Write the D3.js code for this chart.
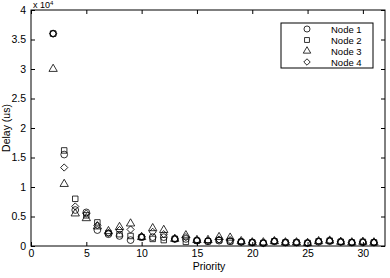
<!DOCTYPE html>
<html>
<head>
<meta charset="utf-8">
<script src="https://cdn.jsdelivr.net/npm/d3@7"></script>
<style>
  body { margin: 0; background: #fff; }
  svg { display: block; font-family: "Liberation Sans", Arial, sans-serif; }
</style>
</head>
<body>
<div id="chart"></div>
<script>
// priorities on the x axis
const priorities = [2, 3, 4, 5, 6, 7, 8, 9, 10, 11, 12, 13, 14, 15, 16, 17, 18, 19, 20, 21, 22, 23, 24, 25, 26, 27, 28, 29, 30, 31];

// delay values (x 10^4 us)
const node1 = [3.60, 1.55, 0.61, 0.57, 0.27, 0.20, 0.17, 0.10, 0.15, 0.15, 0.15, 0.12, 0.12, 0.09, 0.08, 0.09, 0.08, 0.07, 0.06, 0.05, 0.08, 0.06, 0.06, 0.05, 0.07, 0.08, 0.07, 0.06, 0.06, 0.06];
const node2 = [3.60, 1.62, 0.80, 0.52, 0.40, 0.22, 0.20, 0.17, 0.15, 0.12, 0.10, 0.12, 0.07, 0.09, 0.08, 0.10, 0.08, 0.07, 0.06, 0.05, 0.08, 0.06, 0.06, 0.05, 0.08, 0.09, 0.07, 0.06, 0.07, 0.06];
const node3 = [3.00, 1.05, 0.55, 0.47, 0.33, 0.25, 0.32, 0.38, 0.15, 0.30, 0.27, 0.12, 0.18, 0.10, 0.10, 0.15, 0.14, 0.08, 0.06, 0.06, 0.08, 0.06, 0.06, 0.05, 0.08, 0.09, 0.07, 0.06, 0.07, 0.06];
const node4 = [3.60, 1.33, 0.67, 0.55, 0.35, 0.22, 0.27, 0.28, 0.16, 0.24, 0.20, 0.12, 0.15, 0.10, 0.09, 0.11, 0.10, 0.07, 0.06, 0.05, 0.08, 0.06, 0.06, 0.05, 0.08, 0.09, 0.07, 0.06, 0.07, 0.06];

const seriesNames = ["Node 1", "Node 2", "Node 3", "Node 4"];
const seriesValues = [node1, node2, node3, node4];
// diamond is drawn as a square turned 45 degrees, like matlab's marker
const seriesSymbols = [d3.symbolCircle, d3.symbolSquare, d3.symbolTriangle, d3.symbolSquare];
const seriesRotate = [0, 0, 0, 45];
const seriesSizes = [36, 30, 30, 26];

const xTicks = [0, 5, 10, 15, 20, 25, 30];
const yTicks = [0, 0.5, 1, 1.5, 2, 2.5, 3, 3.5, 4];

const width = 390, height = 278;
const plotLeft = 31, plotRight = 385, plotTop = 10, plotBottom = 246;

const x = d3.scaleLinear().domain([0, 32]).range([plotLeft, plotRight]);
const y = d3.scaleLinear().domain([0, 4]).range([plotBottom, plotTop]);

const svg = d3.select("#chart").append("svg")
    .attr("width", width)
    .attr("height", height);

// plot box
svg.append("rect")
    .attr("x", plotLeft).attr("y", plotTop)
    .attr("width", plotRight - plotLeft).attr("height", plotBottom - plotTop)
    .attr("fill", "none").attr("stroke", "#000").attr("stroke-width", 1);

// axes with inward ticks
const xAxis = svg.append("g").attr("transform", `translate(0,${plotBottom})`)
    .call(d3.axisBottom(x).tickValues(xTicks).tickSize(-4).tickPadding(4));
const xTop = svg.append("g").attr("transform", `translate(0,${plotTop})`)
    .call(d3.axisTop(x).tickValues(xTicks).tickSize(-4).tickFormat(""));
const yAxis = svg.append("g").attr("transform", `translate(${plotLeft},0)`)
    .call(d3.axisLeft(y).tickValues(yTicks).tickSize(-4).tickPadding(5).tickFormat(d3.format("~g")));
const yRight = svg.append("g").attr("transform", `translate(${plotRight},0)`)
    .call(d3.axisRight(y).tickValues(yTicks).tickSize(-4).tickFormat(""));

[xAxis, xTop, yAxis, yRight].forEach(g => {
    g.select(".domain").remove();
    g.selectAll("line").attr("stroke", "#000");
    g.selectAll("text").attr("fill", "#000").style("font-size", "10.5px");
});

// scale factor label
const expo = svg.append("text")
    .attr("x", 33).attr("y", 8)
    .style("font-size", "9px")
    .text("x 10");
expo.append("tspan").attr("dy", -3).style("font-size", "6px").text("4");

// axis titles
svg.append("text")
    .attr("x", 209).attr("y", 270)
    .attr("text-anchor", "middle")
    .style("font-size", "10.5px")
    .text("Priority");

svg.append("text")
    .attr("transform", `translate(10,${(plotTop + plotBottom) / 2}) rotate(-90)`)
    .attr("text-anchor", "middle")
    .style("font-size", "10.5px")
    .text("Delay (us)");

// markers
seriesValues.forEach((vals, i) => {
    const sym = d3.symbol().type(seriesSymbols[i]).size(seriesSizes[i]);
    svg.append("g").selectAll("path")
        .data(vals.map((v, j) => ({ p: priorities[j], v: v })))
        .enter().append("path")
        .attr("transform", d => `translate(${x(d.p)},${y(d.v)}) rotate(${seriesRotate[i]})`)
        .attr("d", sym)
        .attr("fill", "none")
        .attr("stroke", "#000")
        .attr("stroke-width", 0.8);
});

// legend
const legend = svg.append("g");
legend.append("rect")
    .attr("x", 281).attr("y", 23)
    .attr("width", 92).attr("height", 45)
    .attr("fill", "#fff").attr("stroke", "#000").attr("stroke-width", 1);

seriesNames.forEach((name, i) => {
    const ly = 29 + i * 11;
    legend.append("path")
        .attr("transform", `translate(307,${ly}) rotate(${seriesRotate[i]})`)
        .attr("d", d3.symbol().type(seriesSymbols[i]).size(seriesSizes[i] * 0.8)())
        .attr("fill", "none").attr("stroke", "#000").attr("stroke-width", 0.8);
    legend.append("text")
        .attr("x", 331).attr("y", ly + 3.5)
        .style("font-size", "9.5px")
        .text(name);
});
</script>
</body>
</html>
